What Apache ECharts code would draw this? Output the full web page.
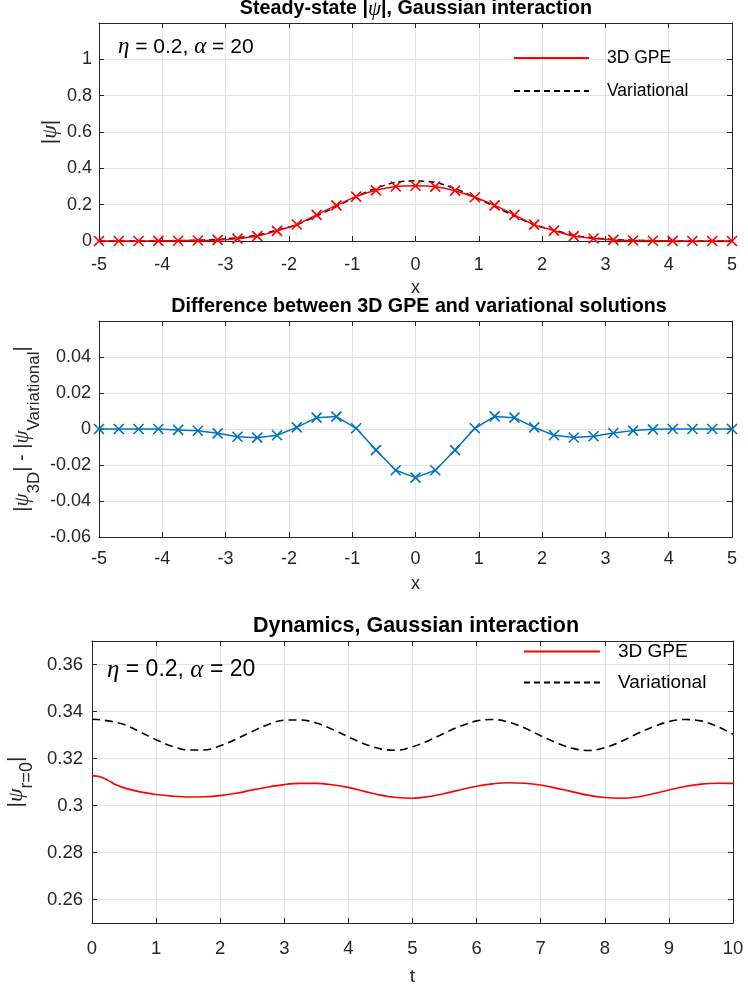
<!DOCTYPE html>
<html><head><meta charset="utf-8">
<script src="https://cdn.jsdelivr.net/npm/echarts@6/dist/echarts.min.js"></script>
<style>html,body{margin:0;padding:0;background:#fff}#c{width:748px;height:989px}</style>
</head><body><div id="c"></div>
<script>
// ---- data ----
const xPos = [-5, -4.6875, -4.375, -4.0625, -3.75, -3.4375, -3.125, -2.8125, -2.5, -2.1875, -1.875, -1.5625, -1.25, -0.9375, -0.625, -0.3125, 0, 0.3125, 0.625, 0.9375, 1.25, 1.5625, 1.875, 2.1875, 2.5, 2.8125, 3.125, 3.4375, 3.75, 4.0625, 4.375, 4.6875, 5];
const gpeSteady = [0, 0, 0.0003, 0.0007, 0.0015, 0.003, 0.006, 0.013, 0.027, 0.056, 0.091, 0.144, 0.196, 0.244, 0.279, 0.300, 0.304, 0.299, 0.277, 0.241, 0.196, 0.144, 0.090, 0.057, 0.027, 0.014, 0.006, 0.003, 0.0015, 0.0007, 0.0003, 0, 0];
const varSteady = [0, 0, 0.0003, 0.0008, 0.002, 0.004, 0.0085, 0.018, 0.032, 0.060, 0.090, 0.138, 0.189, 0.244, 0.291, 0.323, 0.331, 0.322, 0.289, 0.241, 0.189, 0.138, 0.089, 0.060, 0.032, 0.018, 0.0085, 0.004, 0.002, 0.0008, 0.0003, 0, 0];
const diffSteady = [0, 0, 0, 0, -0.0005, -0.001, -0.0024, -0.0043, -0.0048, -0.0035, 0.0009, 0.0063, 0.0069, 0.0004, -0.0117, -0.0229, -0.027, -0.0229, -0.0117, 0.0004, 0.007, 0.0063, 0.0009, -0.0035, -0.0047, -0.004, -0.0022, -0.0009, -0.0002, 0, 0, 0, 0];
const tVals = [0, 0.125, 0.25, 0.375, 0.5, 0.75, 1, 1.25, 1.5, 1.75, 2, 2.25, 2.5, 2.75, 3, 3.25, 3.5, 3.75, 4, 4.25, 4.5, 4.75, 5, 5.25, 5.5, 5.75, 6, 6.25, 6.5, 6.75, 7, 7.25, 7.5, 7.75, 8, 8.25, 8.5, 8.75, 9, 9.25, 9.5, 9.75, 10];
const gpeDyn = [0.3127, 0.3122, 0.3107, 0.3088, 0.3075, 0.3058, 0.3047, 0.3040, 0.3036, 0.3037, 0.3042, 0.3052, 0.3066, 0.3079, 0.3089, 0.3094, 0.3094, 0.3088, 0.3077, 0.3060, 0.3044, 0.3034, 0.3031, 0.3038, 0.3051, 0.3067, 0.3082, 0.3092, 0.3097, 0.3095, 0.3087, 0.3073, 0.3058, 0.3043, 0.3034, 0.3031, 0.3036, 0.3050, 0.3066, 0.3081, 0.3091, 0.3095, 0.3094];
const varDyn = [0.3367, 0.3365, 0.3360, 0.3354, 0.3345, 0.3313, 0.3280, 0.3252, 0.3236, 0.3236, 0.3254, 0.3283, 0.3315, 0.3345, 0.3363, 0.3364, 0.3351, 0.3324, 0.3292, 0.3262, 0.3241, 0.3235, 0.3250, 0.3276, 0.3308, 0.3338, 0.3360, 0.3366, 0.3355, 0.3330, 0.3297, 0.3266, 0.3243, 0.3234, 0.3246, 0.3272, 0.3305, 0.3334, 0.3357, 0.3366, 0.3360, 0.3337, 0.3303];
const dynYTicks = [0.26, 0.28, 0.30, 0.32, 0.34, 0.36];
const legendNames = ['3D GPE', 'Variational'];

// ---- styling ----
const AX = '#262626', GRIDC = '#e3e3e3';
const SANS = '"Liberation Sans", Arial, Helvetica, sans-serif';
const SERIF = '"Liberation Serif", "DejaVu Serif", serif';
const CROSS = 'path://M0,0L10,10M10,0L0,10';

function pairs(xs, ys) { return xs.map((x, i) => [x, ys[i]]); }

function rich(n, g, s, lh) {
  return {
    n: {fontFamily: SANS, fontSize: n, color: AX, lineHeight: lh, verticalAlign: 'middle'},
    g: {fontFamily: SERIF, fontStyle: 'italic', fontSize: g, color: AX, lineHeight: lh, verticalAlign: 'middle'},
    s: {fontFamily: SANS, fontSize: s, color: AX, lineHeight: s, verticalAlign: 'bottom'}
  };
}

function xBottom(gi, min, max, name, gap, margin, fs, nfs) {
  return {type: 'value', gridIndex: gi, position: 'bottom', min, max, interval: 1,
    name, nameLocation: 'middle', nameGap: gap, nameMoveOverlap: false,
    nameTextStyle: {fontFamily: SANS, fontSize: nfs, color: AX},
    axisLine: {show: true, onZero: false, lineStyle: {color: AX, width: 1}},
    axisTick: {show: true, inside: true, length: 5, lineStyle: {color: AX, width: 1}},
    axisLabel: {color: AX, fontSize: fs, fontFamily: SANS, margin},
    splitLine: {show: true, lineStyle: {color: GRIDC, width: 1}}};
}
function xTop(gi, min, max) {
  return {type: 'value', gridIndex: gi, position: 'top', min, max, interval: 1,
    axisLine: {show: true, onZero: false, lineStyle: {color: AX, width: 1}},
    axisTick: {show: true, inside: true, length: 5, lineStyle: {color: AX, width: 1}},
    axisLabel: {show: false}, splitLine: {show: false}};
}
function yLeft(gi, o) {
  return Object.assign({type: 'value', gridIndex: gi, position: 'left',
    nameLocation: 'middle', nameRotate: 90, nameMoveOverlap: false,
    axisLine: {show: true, onZero: false, lineStyle: {color: AX, width: 1}},
    axisTick: {show: true, inside: true, length: 5, lineStyle: {color: AX, width: 1}},
    splitLine: {show: true, lineStyle: {color: GRIDC, width: 1}}}, o);
}
function yRight(gi, o) {
  return Object.assign({type: 'value', gridIndex: gi, position: 'right',
    axisLine: {show: true, onZero: false, lineStyle: {color: AX, width: 1}},
    axisTick: {show: true, inside: true, length: 5, lineStyle: {color: AX, width: 1}},
    axisLabel: {show: false}, splitLine: {show: false}}, o);
}
const hideIcon = {color: 'rgba(0,0,0,0)', borderColor: 'rgba(0,0,0,0)', borderWidth: 0};

const chart = echarts.init(document.getElementById('c'), null, {renderer: 'canvas'});
const option = {
  backgroundColor: '#fff',
  animation: false,
  textStyle: {fontFamily: SANS},
  grid: [
    {left: 99, right: 16, top: 23, height: 218, outerBoundsMode: 'none', containLabel: false},
    {left: 99, right: 16, top: 321, height: 216, outerBoundsMode: 'none', containLabel: false},
    {left: 92, right: 15, top: 641, height: 282, outerBoundsMode: 'none', containLabel: false}
  ],
  xAxis: [
    xBottom(0, -5, 5, 'x', 38, 15, 18, 18), xTop(0, -5, 5),
    xBottom(1, -5, 5, 'x', 38, 13, 18, 18), xTop(1, -5, 5),
    xBottom(2, 0, 10, 't', 44, 16, 18.5, 19), xTop(2, 0, 10)
  ],
  yAxis: [
    yLeft(0, {min: 0, max: 1.2, interval: 0.2, name: '{n||}{g|ψ}{n||}', nameGap: 37,
      nameTextStyle: {rich: rich(21, 22, 16, 24)},
      axisLabel: {color: AX, fontSize: 18, fontFamily: SANS, margin: 7, showMaxLabel: false}}),
    yRight(0, {min: 0, max: 1.2, interval: 0.2}),
    yLeft(1, {min: -0.06, max: 0.06, interval: 0.02,
      name: '{n||}{g|ψ}{s|3D}{n|| - |}{g|ψ}{s|Variational}{n||}', nameGap: 56,
      nameTextStyle: {rich: rich(20, 21, 17, 42)},
      axisLabel: {color: AX, fontSize: 18, fontFamily: SANS, margin: 8, showMaxLabel: false}}),
    yRight(1, {min: -0.06, max: 0.06, interval: 0.02}),
    yLeft(2, {min: 0.25, max: 0.37, name: '{n||}{g|ψ}{s|r=0}{n||}', nameGap: 56,
      nameTextStyle: {rich: rich(21, 22, 18, 40)},
      axisTick: {show: true, inside: true, length: 5, customValues: dynYTicks, lineStyle: {color: AX, width: 1}},
      axisLabel: {color: AX, fontSize: 18.5, fontFamily: SANS, margin: 9, customValues: dynYTicks}}),
    yRight(2, {min: 0.25, max: 0.37,
      axisTick: {show: true, inside: true, length: 5, customValues: dynYTicks, lineStyle: {color: AX, width: 1}}})
  ],
  legend: [
    {data: legendNames, orient: 'vertical', left: 508, top: 44, itemWidth: 75, itemHeight: 14, itemGap: 15,
      selectedMode: false, itemStyle: hideIcon,
      textStyle: {fontFamily: SANS, fontSize: 17.5, color: '#000', padding: [0, 0, 0, 13]}},
    {data: legendNames, orient: 'vertical', left: 518, top: 637, itemWidth: 76, itemHeight: 14, itemGap: 12,
      selectedMode: false, itemStyle: hideIcon,
      textStyle: {fontFamily: SANS, fontSize: 19, color: '#000', padding: [0, 0, 0, 13]}}
  ],
  series: [
    {type: 'line', name: 'Variational', xAxisIndex: 0, yAxisIndex: 0, data: pairs(xPos, varSteady),
      symbol: 'none', smooth: 0.3, itemStyle: {color: '#000'},
      lineStyle: {color: '#000', width: 1.5, type: [6, 4]}, z: 2},
    {type: 'line', name: '3D GPE', xAxisIndex: 0, yAxisIndex: 0, data: pairs(xPos, gpeSteady),
      symbol: 'none', smooth: 0.3, itemStyle: {color: '#ff0000'},
      lineStyle: {color: '#ff0000', width: 1.5}, z: 3},
    {type: 'scatter', name: 'gpeMarks', xAxisIndex: 0, yAxisIndex: 0, data: pairs(xPos, gpeSteady),
      symbol: CROSS, symbolSize: 10,
      itemStyle: {color: '#ff0000', borderColor: '#ff0000', borderWidth: 1.6, opacity: 1}, z: 4},
    {type: 'line', name: 'diff', xAxisIndex: 2, yAxisIndex: 2, data: pairs(xPos, diffSteady),
      symbol: CROSS, symbolSize: 10, showSymbol: true,
      itemStyle: {color: '#0072BD', borderColor: '#0072BD', borderWidth: 1.6},
      lineStyle: {color: '#0072BD', width: 1.5}, z: 3},
    {type: 'line', name: 'Variational', xAxisIndex: 4, yAxisIndex: 4, data: pairs(tVals, varDyn),
      symbol: 'none', smooth: 0.35, itemStyle: {color: '#000'},
      lineStyle: {color: '#000', width: 1.6, type: [8, 5]}, z: 2},
    {type: 'line', name: '3D GPE', xAxisIndex: 4, yAxisIndex: 4, data: pairs(tVals, gpeDyn),
      symbol: 'none', smooth: 0.35, itemStyle: {color: '#ff0000'},
      lineStyle: {color: '#ff0000', width: 1.6}, z: 3}
  ],
  graphic: [
    {type: 'text', x: 416, y: 9, z: 10, style: {
      text: '{b|Steady-state |}{g|ψ}{b||, Gaussian interaction}', align: 'center', verticalAlign: 'middle',
      rich: {b: {fontFamily: SANS, fontWeight: 'bold', fontSize: 19.7, fill: '#000'},
             g: {fontFamily: SERIF, fontStyle: 'italic', fontSize: 21, fill: '#000'}}}},
    {type: 'text', x: 419, y: 307, z: 10, style: {
      text: 'Difference between 3D GPE and variational solutions', align: 'center', verticalAlign: 'middle',
      font: 'bold 19.7px ' + SANS, fill: '#000'}},
    {type: 'text', x: 416, y: 626, z: 10, style: {
      text: 'Dynamics, Gaussian interaction', align: 'center', verticalAlign: 'middle',
      font: 'bold 21.5px ' + SANS, fill: '#000'}},
    {type: 'text', x: 118, y: 47, z: 10, style: {
      text: '{g|η}{n| = 0.2, }{g|α}{n| = 20}', align: 'left', verticalAlign: 'middle',
      rich: {n: {fontFamily: SANS, fontSize: 21, fill: '#000'},
             g: {fontFamily: SERIF, fontStyle: 'italic', fontSize: 23, fill: '#000'}}}},
    {type: 'text', x: 107, y: 670, z: 10, style: {
      text: '{g|η}{n| = 0.2, }{g|α}{n| = 20}', align: 'left', verticalAlign: 'middle',
      rich: {n: {fontFamily: SANS, fontSize: 23, fill: '#000'},
             g: {fontFamily: SERIF, fontStyle: 'italic', fontSize: 25, fill: '#000'}}}}
  ]
};
chart.setOption(option);
</script></body></html>
